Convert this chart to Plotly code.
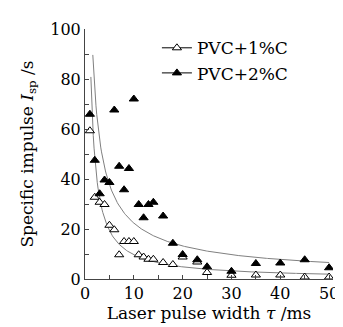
import numpy as np
import plotly.graph_objects as go

# pulse width (ms)
tau = [1, 2, 3, 4, 5, 6, 7, 8, 9, 10, 11, 12, 13, 14, 16, 18, 20, 23, 25, 30, 35, 40, 45, 50]
# PVC+1%C specific impulse
isp_1 = [59.3, 32.7, 30.7, 29.8, 21.5, 19.7, 9.7, 15.0, 15.0, 15.0, 9.7, 8.8, 7.9, 7.9,
         6.6, 5.8, 8.8, 6.8, 2.6, 1.5, 1.6, 1.6, 0.8, 0.8]
# PVC+2%C specific impulse
isp_2 = [65.9, 47.5, 34.1, 39.6, 38.6, 67.6, 45.1, 35.7, 44.2, 72.0, 29.8, 24.5, 29.8, 30.7,
         25.2, 14.3, 9.8, 7.7, 4.9, 3.1, 6.2, 6.4, 7.7, 4.5]

# power-law fit parameters  I = a * tau^-b
fit_1 = dict(a=97.0, b=1.0, start=1.2)
fit_2 = dict(a=128.0, b=0.758, start=1.6)

x_ticks = [0, 10, 20, 30, 40, 50]
x_minor = [5, 15, 25, 35, 45]
y_ticks = [0, 20, 40, 60, 80, 100]
y_minor = [10, 30, 50, 70, 90]

font_family = "DejaVu Serif"
fig = go.Figure()

for fit in (fit_1, fit_2):
    xs = np.linspace(fit["start"], 50, 300)
    fig.add_trace(go.Scatter(x=xs, y=fit["a"] * xs ** (-fit["b"]), mode="lines",
                             line=dict(color="#808080", width=1), showlegend=False,
                             hoverinfo="skip"))

fig.add_trace(go.Scatter(x=tau, y=isp_1, mode="markers", showlegend=False,
                         marker=dict(symbol="triangle-up", size=8, color="white",
                                     line=dict(color="black", width=1))))
fig.add_trace(go.Scatter(x=tau, y=isp_2, mode="markers", showlegend=False,
                         marker=dict(symbol="triangle-up", size=8, color="black",
                                     line=dict(color="black", width=1))))

# legend entries
fig.add_trace(go.Scatter(x=[None], y=[None], mode="lines+markers", name="PVC+1%C",
                         line=dict(color="black", width=1),
                         marker=dict(symbol="triangle-up", size=8, color="white",
                                     line=dict(color="black", width=1))))
fig.add_trace(go.Scatter(x=[None], y=[None], mode="lines+markers", name="PVC+2%C",
                         line=dict(color="black", width=1),
                         marker=dict(symbol="triangle-up", size=8, color="black",
                                     line=dict(color="black", width=1))))

axis_common = dict(showgrid=False, zeroline=False, showline=True, linecolor="#444",
                   linewidth=1, ticks="inside", ticklen=4, tickcolor="#444",
                   tickfont=dict(family=font_family, size=16, color="black"))

fig.update_layout(
    width=343, height=327,
    margin=dict(l=77, r=15, t=17, b=56),
    plot_bgcolor="white", paper_bgcolor="white",
    font=dict(family=font_family, color="black"),
    showlegend=True,
    legend=dict(x=0.29, y=0.995, xanchor="left", yanchor="top",
                bgcolor="rgba(0,0,0,0)", font=dict(family=font_family, size=17),
                tracegroupgap=0, itemwidth=30),
    xaxis=dict(range=[0, 50.8], tickvals=x_ticks,
               minor=dict(tickvals=x_minor, ticks="inside", ticklen=4, tickcolor="#444",
                          showgrid=False),
               title=dict(text="Laser pulse width <i>τ</i> /ms",
                          font=dict(family=font_family, size=17), standoff=2),
               **axis_common),
    yaxis=dict(range=[0, 100], tickvals=y_ticks,
               minor=dict(tickvals=y_minor, ticks="inside", ticklen=4, tickcolor="#444",
                          showgrid=False),
               title=dict(text="Specific impulse <i>I</i><sub>sp</sub> /s",
                          font=dict(family=font_family, size=17), standoff=12),
               **axis_common),
)

fig.write_html("out.html")
